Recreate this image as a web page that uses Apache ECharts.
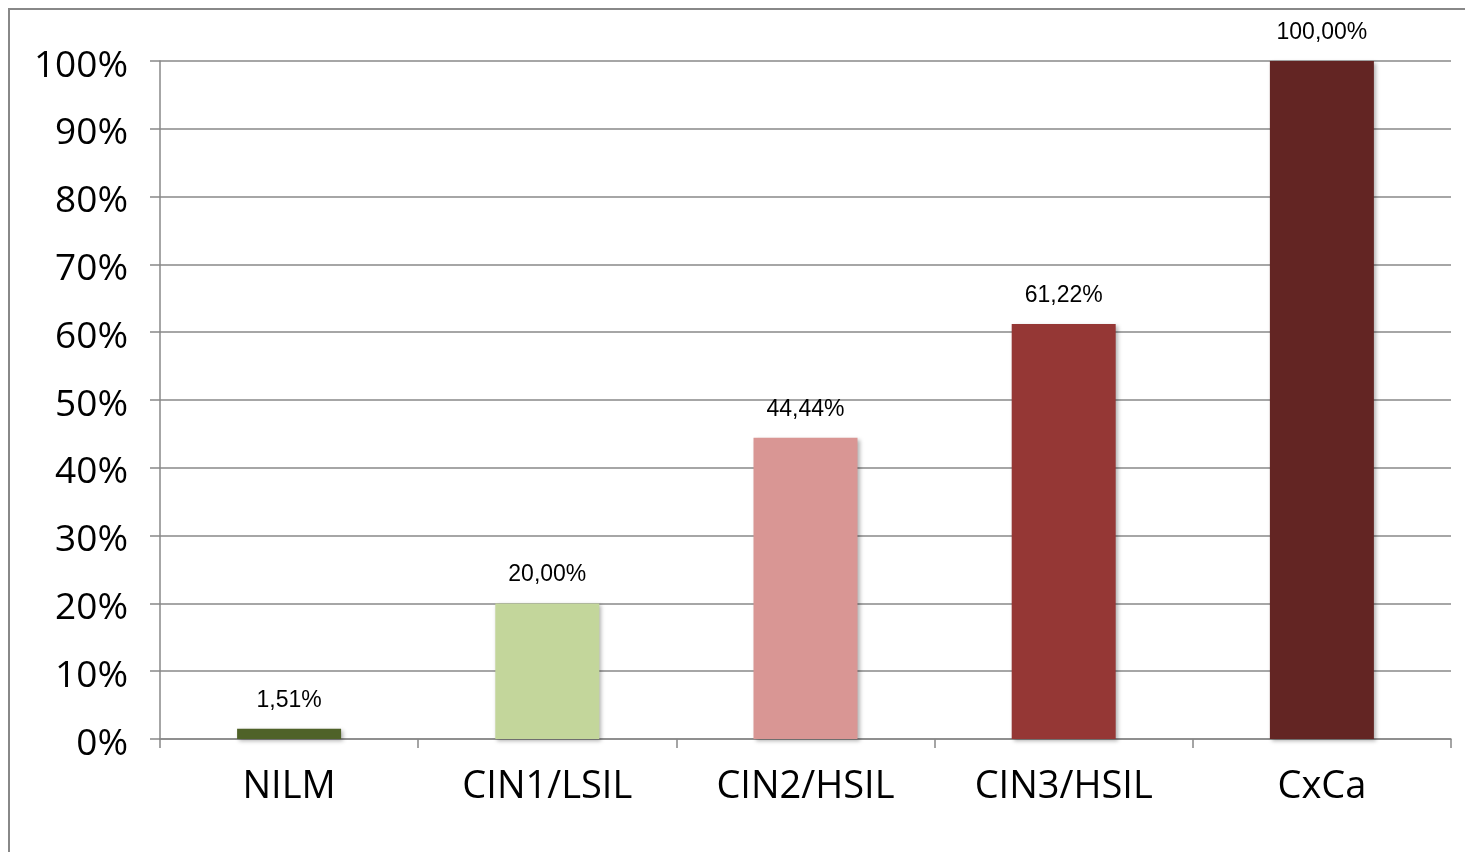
<!DOCTYPE html>
<html>
<head>
<meta charset="utf-8">
<script src="https://cdn.jsdelivr.net/npm/echarts@6/dist/echarts.min.js"></script>
<style>
html,body{margin:0;padding:0;background:#fff;}
#chart{width:1465px;height:852px;}
</style>
</head>
<body>
<div id="chart"></div>
<script>
const categories = ['NILM', 'CIN1/LSIL', 'CIN2/HSIL', 'CIN3/HSIL', 'CxCa'];
const values = [1.51, 20.00, 44.44, 61.22, 100.00];
const barColors = ['#4F6228', '#C3D69B', '#D99694', '#953735', '#632523'];

const chart = echarts.init(document.getElementById('chart'));
chart.setOption({
  animation: false,
  graphic: [{
    type: 'rect',
    shape: { x: 9, y: 9, width: 1480, height: 880 },
    style: { fill: 'none', stroke: '#888888', lineWidth: 2 },
    z: -1
  }],
  grid: { left: 160, right: 14, top: 61, bottom: 113 },
  xAxis: {
    type: 'category',
    data: categories,
    axisLine: { lineStyle: { color: '#888888', width: 1.5 } },
    axisTick: { show: true, length: 9, alignWithLabel: false, lineStyle: { color: '#888888', width: 1.5 } },
    axisLabel: { fontFamily: 'Open Sans', fontSize: 38, color: '#000', margin: 29 }
  },
  yAxis: {
    type: 'value',
    min: 0, max: 100, interval: 10,
    axisLine: { show: true, lineStyle: { color: '#888888', width: 1.5 } },
    axisTick: { show: true, length: 10, lineStyle: { color: '#888888', width: 1.5 } },
    splitLine: { lineStyle: { color: '#888888', width: 1.5 } },
    axisLabel: {
      color: '#000', margin: 32,
      formatter: v => '{a|' + v + '%}',
      rich: { a: { fontFamily: 'Open Sans', fontSize: 37, color: '#000', padding: [10, 0, 0, 0] } }
    }
  },
  series: [{
    type: 'bar',
    barWidth: 104,
    data: values.map((v, i) => ({ value: v, itemStyle: { color: barColors[i] } })),
    itemStyle: { shadowBlur: 4, shadowColor: 'rgba(0,0,0,0.3)', shadowOffsetX: 2, shadowOffsetY: 2 },
    label: {
      show: true, position: 'top', distance: 17,
      fontFamily: 'Liberation Sans', fontSize: 23, color: '#000',
      formatter: p => p.value.toFixed(2).replace('.', ',') + '%'
    }
  }]
});
</script>
</body>
</html>
